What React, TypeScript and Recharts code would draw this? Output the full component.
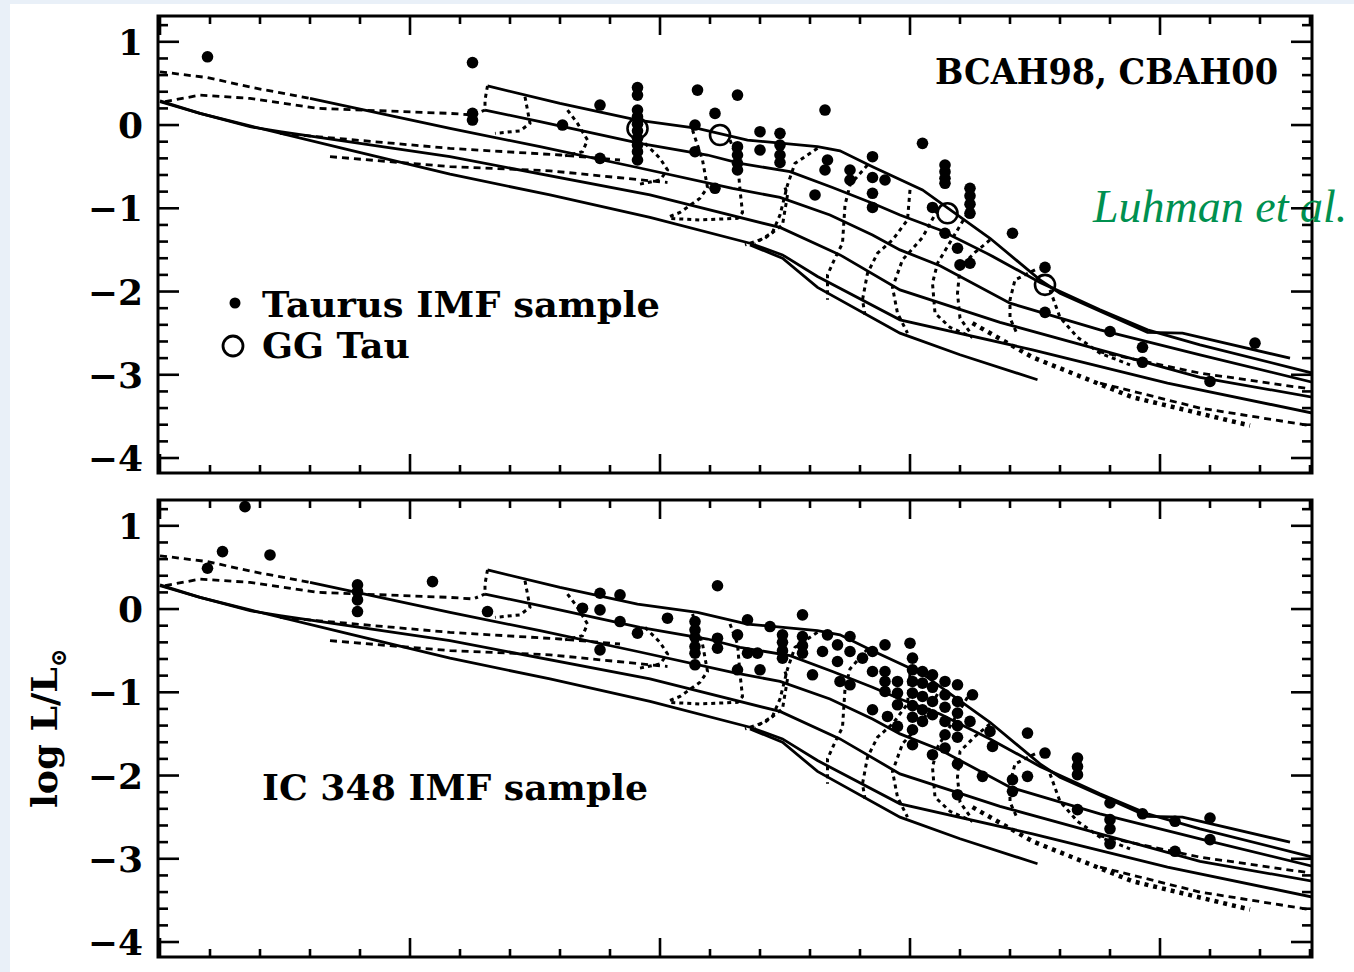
import React from "react";
import { ComposedChart, Line, Scatter, XAxis, YAxis, ReferenceArea } from "recharts";

// log Teff runs right to left, log L/Lsun bottom to top
const X_DOMAIN = [3.3392, 3.8008];
const Y_DOMAIN = [-4.18, 1.31];
const X_TICKS = [3.34, 3.36, 3.38, 3.4, 3.42, 3.44, 3.46, 3.48, 3.5, 3.52, 3.54, 3.56, 3.58, 3.6, 3.62, 3.64, 3.66, 3.68, 3.7, 3.72, 3.74, 3.76, 3.78, 3.8];
const Y_TICKS = [-4, -3.8, -3.6, -3.4, -3.2, -3, -2.8, -2.6, -2.4, -2.2, -2, -1.8, -1.6, -1.4, -1.2, -1, -0.8, -0.6, -0.4, -0.2, 0, 0.2, 0.4, 0.6, 0.8, 1, 1.2];

// isochrones (solid)
const ISO_1 = [[3.669, 0.47], [3.640, 0.26], [3.609, 0.06], [3.585, -0.04], [3.565, -0.18], [3.537, -0.26], [3.528, -0.31], [3.515, -0.50], [3.495, -0.78], [3.468, -1.36], [3.448, -1.86], [3.440, -2.02], [3.405, -2.49], [3.391, -2.50], [3.348, -2.80]];
const ISO_2 = [[3.670, 0.18], [3.648, 0.04], [3.608, -0.22], [3.581, -0.36], [3.568, -0.46], [3.548, -0.56], [3.531, -0.75], [3.515, -0.94], [3.504, -1.08], [3.488, -1.26], [3.468, -1.56], [3.448, -1.89], [3.424, -2.22], [3.405, -2.46], [3.384, -2.64], [3.339, -2.98]];
const ISO_3 = [[3.740, 0.32], [3.684, -0.04], [3.648, -0.26], [3.609, -0.51], [3.571, -0.76], [3.552, -0.87], [3.532, -1.08], [3.515, -1.32], [3.504, -1.50], [3.488, -1.69], [3.460, -2.14], [3.424, -2.46], [3.384, -2.76], [3.339, -3.09]];
const ISO_4 = [[3.800, 0.28], [3.784, 0.14], [3.764, -0.02], [3.752, -0.08], [3.684, -0.38], [3.604, -0.84], [3.552, -1.23], [3.528, -1.56], [3.504, -1.98], [3.464, -2.37], [3.424, -2.70], [3.384, -3.03], [3.339, -3.27]];
const ISO_5 = [[3.800, 0.29], [3.784, 0.14], [3.764, -0.01], [3.724, -0.30], [3.684, -0.59], [3.644, -0.84], [3.604, -1.11], [3.564, -1.42], [3.551, -1.56], [3.537, -1.82], [3.504, -2.34], [3.451, -2.70], [3.397, -3.10], [3.339, -3.46]];
const ISO_6 = [[3.564, -1.44], [3.551, -1.60], [3.537, -1.95], [3.504, -2.50], [3.480, -2.76], [3.449, -3.06]];

// dashed isochrones
const CB_1 = [[3.800, 0.64], [3.781, 0.57], [3.763, 0.45], [3.740, 0.32]];
const CB_2 = [[3.798, 0.28], [3.784, 0.36], [3.764, 0.32], [3.737, 0.20], [3.684, 0.14], [3.674, 0.12]];
const CB_3 = [[3.752, -0.10], [3.684, -0.28], [3.640, -0.36], [3.616, -0.42]];
const CB_4 = [[3.732, -0.38], [3.684, -0.50], [3.644, -0.55], [3.597, -0.69]];
const CB_5 = [[3.425, -2.72], [3.384, -2.98], [3.340, -3.17]];
const CB_6 = [[3.424, -3.10], [3.384, -3.40], [3.340, -3.61]];
const CB_7 = [[3.475, -2.38], [3.451, -2.79], [3.411, -3.27], [3.364, -3.61]];

// mass tracks (dotted)
const TR_1 = [[3.669, 0.47], [3.670, 0.30], [3.670, 0.18], [3.674, 0.13]];
const TR_2 = [[3.654, 0.34], [3.653, 0.18], [3.652, 0.02], [3.656, -0.07], [3.666, -0.10]];
const TR_3 = [[3.637, 0.18], [3.633, 0.02], [3.629, -0.18], [3.631, -0.32], [3.638, -0.37]];
const TR_4 = [[3.606, -0.22], [3.600, -0.40], [3.597, -0.54], [3.600, -0.66], [3.608, -0.71]];
const TR_5 = [[3.587, -0.06], [3.583, -0.42], [3.581, -0.75], [3.584, -0.88], [3.592, -1.05], [3.597, -1.11]];
const TR_6 = [[3.572, -0.18], [3.569, -0.42], [3.568, -0.78], [3.567, -1.05], [3.569, -1.12], [3.584, -1.14], [3.597, -1.12]];
const TR_7 = [[3.550, -0.75], [3.549, -0.84], [3.551, -1.20], [3.558, -1.36], [3.566, -1.44]];
const TR_8 = [[3.537, -0.28], [3.546, -0.46], [3.549, -0.72], [3.552, -1.08], [3.555, -1.29], [3.562, -1.42]];
const TR_9 = [[3.517, -0.48], [3.524, -0.72], [3.526, -0.96], [3.527, -1.42], [3.530, -1.60], [3.533, -1.80], [3.533, -2.10]];
const TR_10 = [[3.500, -0.78], [3.501, -1.14], [3.507, -1.38], [3.513, -1.54], [3.517, -1.78], [3.519, -2.10], [3.518, -2.28]];
const TR_11 = [[3.489, -1.02], [3.495, -1.35], [3.503, -1.62], [3.507, -1.95], [3.505, -2.26], [3.501, -2.50]];
const TR_12 = [[3.477, -1.06], [3.489, -1.66], [3.491, -1.90], [3.490, -2.26], [3.484, -2.43], [3.475, -2.55]];
const TR_13 = [[3.468, -1.38], [3.474, -1.53], [3.480, -1.71], [3.481, -2.02], [3.480, -2.32], [3.476, -2.49]];
const TR_14 = [[3.450, -1.74], [3.458, -1.86], [3.460, -2.10], [3.460, -2.32], [3.457, -2.52]];
const TR_15 = [[3.444, -1.98], [3.440, -2.31], [3.433, -2.55], [3.424, -2.74], [3.412, -2.88]];

const TAURUS = [
  [3.781, 0.82], [3.675, 0.75], [3.675, 0.14], [3.675, 0.06], [3.624, 0.24], [3.639, 0.00], [3.624, -0.40],
  [3.609, 0.45], [3.609, 0.36], [3.609, 0.18], [3.609, 0.10], [3.609, 0.01], [3.609, -0.07], [3.609, -0.16], [3.609, -0.24], [3.609, -0.32], [3.609, -0.42],
  [3.585, 0.42], [3.569, 0.36], [3.578, 0.14], [3.586, 0.00], [3.586, -0.32], [3.578, -0.76],
  [3.569, -0.26], [3.569, -0.36], [3.569, -0.46], [3.569, -0.54],
  [3.560, -0.08], [3.560, -0.30],
  [3.552, -0.10], [3.552, -0.24], [3.552, -0.36], [3.552, -0.45],
  [3.534, 0.18], [3.533, -0.42], [3.534, -0.54], [3.538, -0.84], [3.524, -0.54], [3.524, -0.66],
  [3.515, -0.38], [3.515, -0.63], [3.515, -0.82], [3.515, -0.99], [3.510, -0.66],
  [3.495, -0.22],
  [3.486, -0.48], [3.486, -0.56], [3.486, -0.64], [3.486, -0.70],
  [3.476, -0.76], [3.476, -0.85], [3.476, -0.95], [3.476, -1.06],
  [3.491, -0.99], [3.486, -1.30], [3.481, -1.48], [3.480, -1.68], [3.476, -1.66],
  [3.459, -1.30], [3.446, -1.71], [3.446, -2.25], [3.420, -2.48], [3.407, -2.67], [3.407, -2.85], [3.380, -3.08], [3.362, -2.62],
];
const GG_TAU = [[3.609, -0.04], [3.576, -0.12], [3.485, -1.06], [3.446, -1.92]];

const IC348 = [
  [3.766, 1.23], [3.781, 0.49], [3.775, 0.69], [3.756, 0.65],
  [3.721, 0.29], [3.721, 0.21], [3.721, 0.11], [3.721, -0.03],
  [3.691, 0.33], [3.669, -0.03],
  [3.624, 0.19], [3.624, -0.01], [3.624, -0.49], [3.616, 0.17], [3.616, -0.15], [3.631, 0.01], [3.609, -0.29], [3.597, -0.11],
  [3.586, -0.15], [3.586, -0.25], [3.586, -0.34], [3.586, -0.45], [3.586, -0.53], [3.586, -0.67],
  [3.577, 0.28], [3.577, -0.35], [3.577, -0.47],
  [3.569, -0.31], [3.565, -0.13], [3.569, -0.73], [3.565, -0.53], [3.561, -0.53], [3.560, -0.73], [3.556, -0.21],
  [3.551, -0.31], [3.551, -0.40], [3.551, -0.50], [3.551, -0.59],
  [3.543, -0.07], [3.543, -0.33], [3.543, -0.44], [3.543, -0.53],
  [3.539, -0.79], [3.535, -0.51], [3.533, -0.31], [3.529, -0.43], [3.529, -0.63], [3.528, -0.87],
  [3.524, -0.33], [3.524, -0.51], [3.524, -0.91], [3.519, -0.59],
  [3.515, -0.51], [3.515, -0.75], [3.515, -1.21],
  [3.510, -0.43], [3.510, -0.75], [3.510, -0.87], [3.510, -0.99], [3.509, -1.29],
  [3.505, -0.87], [3.505, -1.01], [3.505, -1.15], [3.505, -1.41],
  [3.500, -0.41],
  [3.499, -0.59], [3.499, -0.73], [3.499, -0.87], [3.499, -1.01], [3.499, -1.16], [3.499, -1.30], [3.499, -1.45], [3.499, -1.63],
  [3.495, -0.75], [3.495, -0.89], [3.495, -1.05], [3.495, -1.21], [3.495, -1.35],
  [3.491, -0.79], [3.491, -0.94], [3.491, -1.11], [3.491, -1.27], [3.491, -1.75],
  [3.486, -0.87], [3.486, -1.03], [3.486, -1.18], [3.486, -1.35], [3.486, -1.51], [3.486, -1.67],
  [3.481, -0.91], [3.481, -1.11], [3.481, -1.25], [3.481, -1.40], [3.481, -1.54],
  [3.475, -1.03], [3.476, -1.35], [3.468, -1.47], [3.467, -1.65],
  [3.481, -1.86], [3.481, -2.23], [3.471, -2.01], [3.459, -2.05], [3.459, -2.19],
  [3.453, -1.49], [3.446, -1.73], [3.453, -2.01],
  [3.433, -1.79], [3.433, -1.89], [3.433, -1.99], [3.433, -2.41],
  [3.420, -2.33], [3.420, -2.53], [3.420, -2.64], [3.420, -2.82],
  [3.407, -2.46], [3.394, -2.55], [3.394, -2.91], [3.380, -2.51], [3.380, -2.77],
];

const toPts = (arr) => arr.map(([x, y]) => ({ x, y }));

const SOLID = [ISO_1, ISO_2, ISO_3, ISO_4, ISO_5, ISO_6];
const DASHED = [CB_1, CB_2, CB_3, CB_4, CB_5, CB_6];
const TRACKS = [TR_1, TR_2, TR_3, TR_4, TR_5, TR_6, TR_7, TR_8, TR_9, TR_10, TR_11, TR_12, TR_13, TR_14, TR_15];

const W = 1354;
const H = 488;
const PL = 158;
const PR = 1312;
const PT = 16;
const PB = 473;
const FONT = "DejaVu Serif";

const isMult = (v, step) => Math.abs(v / step - Math.round(v / step)) < 1e-6;
const fmt = (v) => (v < 0 ? "\u2212" + Math.abs(v) : String(v));

const XTick = ({ x, payload }) => {
  const len = isMult(payload.value, 0.1) ? 19 : 8;
  return (
    <g>
      <line x1={x} x2={x} y1={PB} y2={PB - len} stroke="#000" strokeWidth={2.6} />
      <line x1={x} x2={x} y1={PT} y2={PT + len} stroke="#000" strokeWidth={2.6} />
    </g>
  );
};

const YTick = ({ y, payload }) => {
  const major = isMult(payload.value, 1);
  const len = major ? 21 : 10;
  return (
    <g>
      <line x1={PL} x2={PL + len} y1={y} y2={y} stroke="#000" strokeWidth={2.6} />
      <line x1={PR} x2={PR - len} y1={y} y2={y} stroke="#000" strokeWidth={2.6} />
      {major && (
        <text x={143} y={y + 13} textAnchor="end" fontFamily={FONT} fontWeight="bold" fontSize={36} fill="#000">
          {fmt(payload.value)}
        </text>
      )}
    </g>
  );
};

const TopText = () => (
  <g fontFamily={FONT} fontWeight="bold" fill="#000">
    <text x={935} y={84} fontSize={35} textLength={343} lengthAdjust="spacingAndGlyphs">BCAH98, CBAH00</text>
    <circle cx={235} cy={303} r={5.5} fill="#000" />
    <text x={262} y={317} fontSize={36} textLength={398} lengthAdjust="spacingAndGlyphs">Taurus IMF sample</text>
    <circle cx={233} cy={346} r={10} fill="none" stroke="#000" strokeWidth={2.8} />
    <text x={262} y={358} fontSize={36} textLength={148} lengthAdjust="spacingAndGlyphs">GG Tau</text>
    <text x={1093} y={222} fontFamily="Liberation Serif" fontWeight="normal" fontStyle="italic" fontSize={46} fill="#00904f">Luhman et al.</text>
  </g>
);

const BottomText = () => (
  <g fontFamily={FONT} fontWeight="bold" fill="#000">
    <text x={262} y={316} fontSize={36} textLength={386} lengthAdjust="spacingAndGlyphs">IC 348 IMF sample</text>
    <text transform="translate(57,324) rotate(-90)" fontSize={36} textLength={141} lengthAdjust="spacingAndGlyphs">log L/L</text>
    <text transform="translate(66,183) rotate(-90)" fontSize={22}>{"\u2299"}</text>
  </g>
);

const dot = (r) => (p) => <circle cx={p.cx} cy={p.cy} r={r} fill="#000" />;
const ring = (p) => <circle cx={p.cx} cy={p.cy} r={10} fill="none" stroke="#000" strokeWidth={2.6} />;

const Panel = ({ stars, ggTau, text }) => (
  <ComposedChart width={W} height={H} margin={{ top: PT, right: W - PR, bottom: 5, left: 0 }}>
    <XAxis
      type="number"
      dataKey="x"
      domain={X_DOMAIN}
      reversed
      allowDataOverflow
      ticks={X_TICKS}
      interval={0}
      height={10}
      axisLine={false}
      tickLine={false}
      tick={(p) => <XTick {...p} />}
    />
    <YAxis
      type="number"
      dataKey="y"
      domain={Y_DOMAIN}
      allowDataOverflow
      ticks={Y_TICKS}
      interval={0}
      width={PL}
      axisLine={false}
      tickLine={false}
      tick={(p) => <YTick {...p} />}
    />
    <ReferenceArea
      x1={X_DOMAIN[0]}
      x2={X_DOMAIN[1]}
      y1={Y_DOMAIN[0]}
      y2={Y_DOMAIN[1]}
      fill="none"
      stroke="#000"
      strokeWidth={3}
      ifOverflow="visible"
      label={text}
    />
    {SOLID.map((c, i) => (
      <Line key={"s" + i} data={toPts(c)} dataKey="y" type="linear" dot={false} stroke="#000" strokeWidth={2.8} isAnimationActive={false} />
    ))}
    {DASHED.map((c, i) => (
      <Line key={"d" + i} data={toPts(c)} dataKey="y" type="linear" dot={false} stroke="#000" strokeWidth={2.8} strokeDasharray="7 5" isAnimationActive={false} />
    ))}
    <Line data={toPts(CB_7)} dataKey="y" type="linear" dot={false} stroke="#000" strokeWidth={4.5} strokeDasharray="4 5" isAnimationActive={false} />
    {TRACKS.map((c, i) => (
      <Line key={"t" + i} data={toPts(c)} dataKey="y" type="linear" dot={false} stroke="#000" strokeWidth={3} strokeDasharray="4 4" isAnimationActive={false} />
    ))}
    <Scatter data={toPts(stars)} shape={dot(5.8)} isAnimationActive={false} />
    {ggTau && <Scatter data={toPts(ggTau)} shape={ring} isAnimationActive={false} />}
  </ComposedChart>
);

export default function App() {
  return (
    <div style={{ position: "absolute", left: 0, top: 0, width: 1354, height: 972, background: "#e9f0f8", overflow: "hidden" }}>
      <div style={{ position: "absolute", left: 10, top: 4, width: 1344, height: 968, background: "#fff" }} />
      <div style={{ position: "absolute", left: 0, top: 0 }}>
        <Panel stars={TAURUS} ggTau={GG_TAU} text={<TopText />} />
      </div>
      <div style={{ position: "absolute", left: 0, top: 484 }}>
        <Panel stars={IC348} ggTau={null} text={<BottomText />} />
      </div>
    </div>
  );
}
